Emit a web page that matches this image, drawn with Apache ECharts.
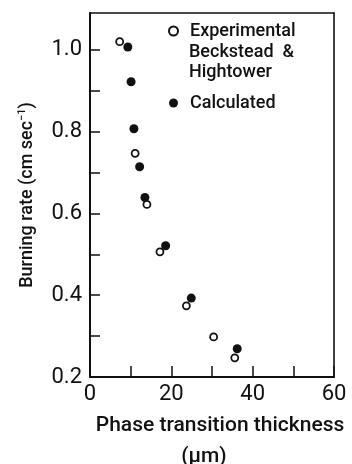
<!DOCTYPE html>
<html>
<head>
<meta charset="utf-8">
<script src="https://cdn.jsdelivr.net/npm/echarts@6/dist/echarts.min.js"></script>
<style>html,body{margin:0;padding:0;background:#fff}#c{width:352px;height:464px}</style>
</head>
<body>
<div id="c"></div>
<script>
// Experimental (Beckstead & Hightower): open circles
const expX = [7.3, 11.1, 14.0, 17.2, 23.7, 30.4, 35.6];
const expY = [1.02, 0.747, 0.622, 0.506, 0.374, 0.298, 0.247];
// Calculated: filled circles
const calcX = [9.3, 10.1, 10.8, 12.2, 13.5, 18.6, 24.9, 36.2];
const calcY = [1.007, 0.922, 0.807, 0.714, 0.639, 0.521, 0.393, 0.269];
const xTicks = [0, 20, 40, 60];
const xMinorTicks = [0, 10, 20, 30, 40, 50, 60];
const yTicks = [0.2, 0.4, 0.6, 0.8, 1.0];
const yMinorTicks = [0.2, 0.3, 0.4, 0.5, 0.6, 0.7, 0.8, 0.9, 1.0];

const FONT = 'Roboto';
const chart = echarts.init(document.getElementById('c'), null, {renderer: 'canvas'});
const frameAxis = {
  axisLine: {show: true, onZero: false, lineStyle: {color: '#111', width: 1.6}},
  axisTick: {show: false}, axisLabel: {show: false}, splitLine: {show: false}
};
const nameFont = {fontFamily: FONT, fontSize: 21, fontWeight: 500, color: '#111', lineHeight: 31};
chart.setOption({
  backgroundColor: '#fff',
  animation: false,
  grid: {left: 90, right: 18, top: 13, bottom: 87, containLabel: false, outerBoundsMode: 'none'},
  legend: {
    orient: 'vertical', left: 163, top: 16, itemWidth: 9, itemHeight: 9, itemGap: 52,
    icon: 'circle',
    textStyle: {fontFamily: FONT, fontSize: 18, fontWeight: 500, color: '#111', lineHeight: 20, padding: [0, 0, 0, 7]},
    data: ['Experimental', 'Calculated']
  },
  graphic: [{
    type: 'text', left: 189, top: 42,
    style: {text: 'Beckstead  &\nHightower', font: '500 18px Roboto', fill: '#111', lineHeight: 20}
  }],
  xAxis: [{
    type: 'value', min: 0, max: 60, interval: 20,
    name: '{a|Phase transition thickness}\n{b|(μm)}', nameLocation: 'middle', nameGap: 33,
    nameTextStyle: Object.assign({}, nameFont, {
      rich: {
        a: Object.assign({}, nameFont, {padding: [0, 0, 0, 16]}),
        b: Object.assign({}, nameFont, {padding: [0, 16, 0, 0]})
      }
    }),
    axisLine: {show: true, onZero: false, lineStyle: {color: '#111', width: 2}},
    axisTick: {show: true, inside: true, length: 11, customValues: xMinorTicks, lineStyle: {color: '#111', width: 1.5}},
    axisLabel: {customValues: xTicks, fontFamily: FONT, fontSize: 22, color: '#111', margin: 6},
    splitLine: {show: false}
  }, Object.assign({type: 'value', min: 0, max: 60, position: 'top'}, frameAxis)],
  yAxis: [{
    type: 'value', min: 0.2, max: 1.09, interval: 0.2,
    name: 'Burning rate (cm sec{sup|−1})', nameLocation: 'middle', nameGap: 53,
    nameTextStyle: {fontFamily: FONT, fontSize: 18, fontWeight: 500, color: '#111',
      rich: {sup: {fontFamily: FONT, fontSize: 11, fontWeight: 500, color: '#111', verticalAlign: 'bottom', padding: [0, 0, 9, 0]}}},
    axisLine: {show: true, onZero: false, lineStyle: {color: '#111', width: 2}},
    axisTick: {show: true, inside: true, length: 10, customValues: yMinorTicks, lineStyle: {color: '#111', width: 1.5}},
    axisLabel: {customValues: yTicks, fontFamily: FONT, fontSize: 22, color: '#111', margin: 8,
      formatter: v => v.toFixed(1)},
    splitLine: {show: false}
  }, Object.assign({type: 'value', min: 0.2, max: 1.09, position: 'right'}, frameAxis)],
  series: [
    {
      name: 'Experimental', type: 'scatter', symbol: 'circle', symbolSize: 7,
      itemStyle: {color: '#fff', borderColor: '#111', borderWidth: 1.8, opacity: 1},
      data: expX.map((x, i) => [x, expY[i]]), z: 3
    },
    {
      name: 'Calculated', type: 'scatter', symbol: 'circle', symbolSize: 9,
      itemStyle: {color: '#111', borderColor: '#111', borderWidth: 0, opacity: 1},
      data: calcX.map((x, i) => [x, calcY[i]]), z: 2
    }
  ]
});
</script>
</body>
</html>
